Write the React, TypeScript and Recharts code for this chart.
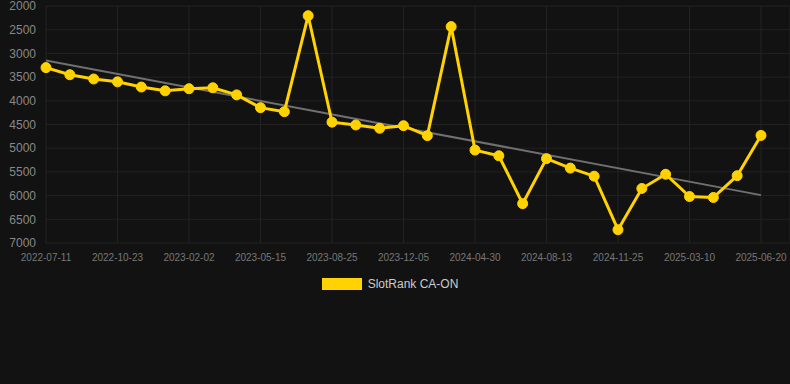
import { LineChart, Line, XAxis, YAxis, CartesianGrid, Legend } from "recharts";

const dates = [
  "2022-07-11", "2022-08-14", "2022-09-18", "2022-10-23", "2022-11-26", "2022-12-30",
  "2023-02-02", "2023-03-08", "2023-04-10", "2023-05-15", "2023-06-18", "2023-07-22",
  "2023-08-25", "2023-09-28", "2023-11-01", "2023-12-05", "2024-01-22", "2024-03-10",
  "2024-04-30", "2024-06-05", "2024-07-10", "2024-08-13", "2024-09-17", "2024-10-21",
  "2024-11-25", "2024-12-29", "2025-02-02", "2025-03-10", "2025-04-13", "2025-05-17",
  "2025-06-20",
];

const ranks = [
  3300, 3450, 3540, 3600, 3710, 3790,
  3745, 3725, 3875, 4145, 4230, 2205,
  4450, 4510, 4580, 4525, 4735, 2435,
  5040, 5160, 6170, 5220, 5420, 5590,
  6720, 5850, 5550, 6020, 6040, 5580,
  4730,
];

// trend line endpoints (first and last date only)
const trendStart = 3150;
const trendEnd = 5990;

const yTicks = [2000, 2500, 3000, 3500, 4000, 4500, 5000, 5500, 6000, 6500, 7000];

const data = dates.map((d, i) => ({
  date: d,
  rank: ranks[i],
  trend: i === 0 ? trendStart : i === dates.length - 1 ? trendEnd : null,
}));

const YELLOW = "#ffd200";
const FONT = "'Liberation Sans', Arial, Helvetica, sans-serif";

function LegendBox() {
  return (
    <div style={{ height: 20, display: "flex", justifyContent: "center", alignItems: "center", fontFamily: FONT }}>
      <span style={{ display: "inline-block", width: 40, height: 12, background: YELLOW, marginRight: 6, marginLeft: -10 }} />
      <span style={{ color: "#cccccc", fontSize: 12 }}>SlotRank CA-ON</span>
    </div>
  );
}

export default function App() {
  document.body.style.margin = "0";
  document.body.style.background = "#121212";
  return (
    <div style={{ width: 790, height: 384, background: "#121212" }}>
      <LineChart width={790} height={384} data={data} margin={{ top: 6, right: 0, bottom: 90, left: 0 }}>
        <CartesianGrid stroke="#222222" strokeWidth={1} />
        <XAxis
          dataKey="date"
          interval={2}
          padding={{ left: 0, right: 29 }}
          height={31}
          tickLine={false}
          axisLine={false}
          tickMargin={5}
          tick={{ fill: "#777777", fontSize: 10, fontFamily: FONT }}
        />
        <YAxis
          reversed
          domain={[2000, 7000]}
          ticks={yTicks}
          interval={0}
          width={46}
          tickLine={false}
          axisLine={false}
          tickMargin={4}
          tick={{ fill: "#888888", fontSize: 12, fontFamily: FONT }}
        />
        <Legend verticalAlign="bottom" content={() => <LegendBox />} />
        <Line
          dataKey="trend"
          connectNulls
          stroke="#707070"
          strokeWidth={2}
          dot={false}
          activeDot={false}
          isAnimationActive={false}
          legendType="none"
        />
        <Line
          dataKey="rank"
          stroke={YELLOW}
          strokeWidth={3}
          dot={{ r: 5, fill: YELLOW, stroke: YELLOW, strokeWidth: 1 }}
          isAnimationActive={false}
        />
      </LineChart>
    </div>
  );
}
